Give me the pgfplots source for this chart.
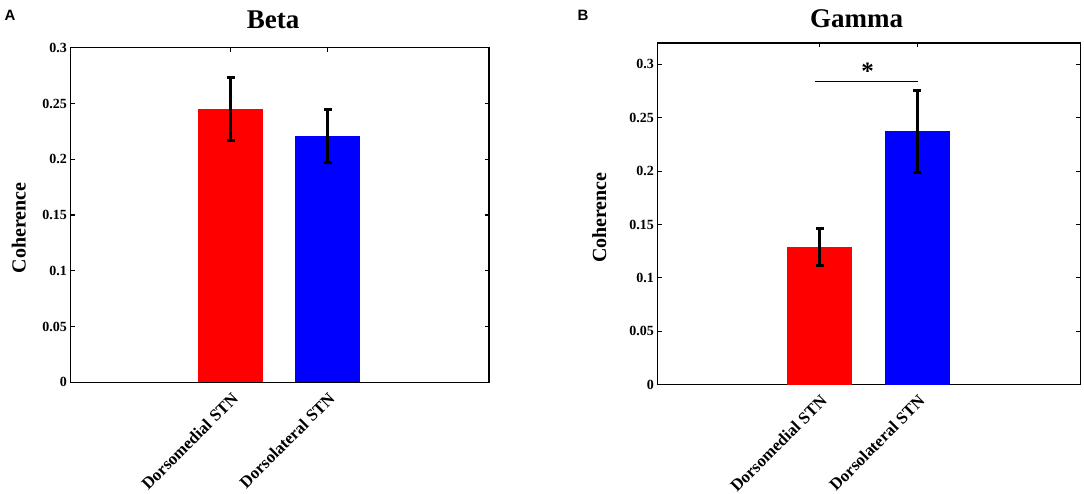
\documentclass[border=0pt]{standalone}
\usepackage{pgfplots}
\pgfplotsset{compat=1.18}
\usepackage{fontspec}
\setmainfont{Liberation Serif}
\newfontfamily\arialf{Liberation Sans}
\definecolor{barred}{RGB}{255,0,0}
\definecolor{barblue}{RGB}{0,0,255}
\pgfplotsset{
  mystyle/.style={
    scale only axis,
    anchor=south west,
    xmin=-0.66, xmax=3.67,
    ymin=0,
    xtick={1,2},
    xticklabels={Dorsomedial STN,Dorsolateral STN},
    ytick={0,0.05,0.1,0.15,0.2,0.25,0.3},
    yticklabels={0,0.05,0.1,0.15,0.2,0.25,0.3},
    tick align=inside,
    major tick length=4.5pt,
    tick style={black, line width=1.1pt},
    axis line style={line width=1.5pt},
    yticklabel style={font=\bfseries\fontsize{14}{14}\selectfont},
    xticklabel style={font=\bfseries\fontsize{16.8}{16.8}\selectfont, rotate=45, anchor=north east, xshift=-3pt, yshift=-3pt},
    ylabel={Coherence},
    ylabel style={font=\bfseries\fontsize{20}{20}\selectfont},
    title style={font=\bfseries\fontsize{27}{27}\selectfont, anchor=base},
  },
  mybar/.style={ybar, bar width=0.67, bar shift=0pt, draw=none,
    error bars/y dir=both, error bars/y explicit,
    error bars/error bar style={line width=3pt, black},
    error bars/error mark options={rotate=90, mark size=4pt, line width=3pt, black}},
}
\begin{document}
\begin{tikzpicture}
\path[use as bounding box] (0,0) rectangle (1084pt,494pt);
\node[font=\arialf\bfseries\fontsize{15}{15}\selectfont, anchor=base west, inner sep=0pt] at (4.5pt,473pt) {A};
\node[font=\arialf\bfseries\fontsize{15}{15}\selectfont, anchor=base west, inner sep=0pt] at (577.5pt,473pt) {B};
\begin{axis}[mystyle,
  at={(70.4pt,111.6pt)}, width=418.6pt, height=334.7pt,
  ymax=0.3,
  title={Beta},
  title style={at={(axis description cs:0.4845,1)}, yshift=13.2pt},
  ylabel style={at={(axis description cs:-0.098,0.462)}, anchor=south},
]
\addplot[mybar, fill=barred] coordinates {(1,0.245) +- (0,0.028)};
\addplot[mybar, fill=barblue] coordinates {(2,0.221) +- (0,0.0235)};
\end{axis}
\begin{axis}[mystyle,
  at={(657.3pt,109.3pt)}, width=423.4pt, height=341.7pt,
  ymax=0.32,
  title={Gamma},
  title style={at={(axis description cs:0.471,1)}, yshift=9.7pt},
  ylabel style={at={(axis description cs:-0.112,0.489)}, anchor=south},
]
\addplot[mybar, fill=barred] coordinates {(1,0.129) +- (0,0.017)};
\addplot[mybar, fill=barblue] coordinates {(2,0.2374) +- (0,0.0385)};
\addplot[black, line width=1.6pt, forget plot] coordinates {(0.956,0.284) (2.008,0.284)};
\node[font=\bfseries\fontsize{25}{25}\selectfont, anchor=base, inner sep=0pt] at (axis cs:1.49,0.286) {*};
\end{axis}
\end{tikzpicture}
\end{document}
